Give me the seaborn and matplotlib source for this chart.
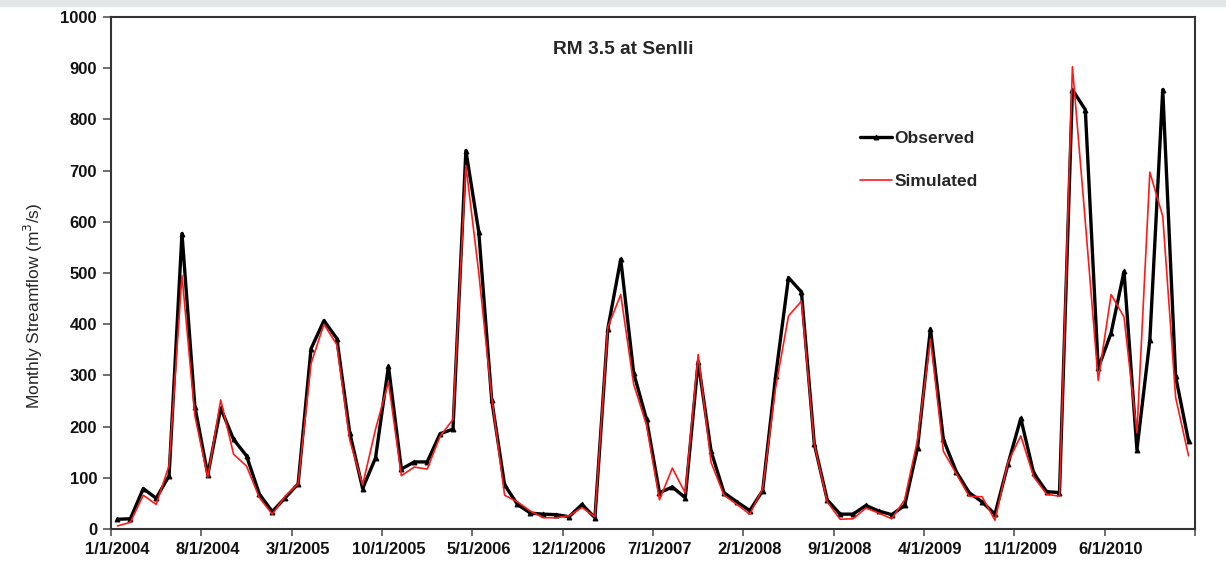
import numpy as np
import pandas as pd
import matplotlib
matplotlib.use("Agg")
import matplotlib.pyplot as plt
import seaborn as sns

# ---- data (monthly, Jan 2004 - Dec 2010) ----
observed = [19, 20, 79, 60, 104, 577, 239, 106, 236, 175, 143, 68,
            34, 61, 88, 352, 407, 372, 188, 79, 139, 318, 117, 131,
            131, 186, 195, 739, 580, 252, 86, 48, 31, 29, 28, 24,
            48, 22, 391, 527, 305, 214, 71, 82, 61, 327, 152, 71,
            53, 36, 75, 298, 491, 463, 166, 57, 29, 29, 46, 35,
            28, 46, 159, 391, 175, 112, 71, 53, 29, 126, 216, 109,
            73, 71, 858, 819, 314, 383, 503, 155, 369, 858, 298, 172]
simulated = [6, 13, 66, 48, 124, 495, 221, 101, 252, 146, 123, 61,
             29, 64, 88, 323, 400, 360, 174, 86, 195, 287, 104, 121,
             117, 181, 214, 710, 500, 257, 66, 53, 35, 22, 22, 26,
             42, 24, 394, 458, 283, 203, 57, 119, 70, 341, 130, 66,
             48, 29, 79, 276, 416, 445, 166, 53, 19, 20, 41, 31,
             20, 57, 174, 371, 152, 108, 64, 63, 17, 130, 182, 102,
             68, 64, 903, 600, 290, 458, 414, 188, 697, 611, 257, 143]
tick_labels = ["1/1/2004", "8/1/2004", "3/1/2005", "10/1/2005", "5/1/2006",
               "12/1/2006", "7/1/2007", "2/1/2008", "9/1/2008", "4/1/2009",
               "11/1/2009", "6/1/2010"]
label_step = 7
title = "RM 3.5 at Senlli"
ylabel = "Monthly Streamflow (m$^3$/s)"

assert len(observed) == len(simulated)
n = len(observed)
month_idx = np.arange(n)

df = pd.DataFrame({"month": np.concatenate([month_idx, month_idx]),
                   "flow": observed + simulated,
                   "series": ["Observed"] * n + ["Simulated"] * n})

sns.set_theme(style="white")
plt.rcParams["font.family"] = ["Liberation Sans", "DejaVu Sans"]

fig = plt.figure(figsize=(12.26, 5.85), dpi=100)
fig.patch.set_facecolor("white")
ax = fig.add_axes([111 / 1226, 56 / 585, 1084 / 1226, 512 / 585])

sns.lineplot(data=df[df.series == "Observed"], x="month", y="flow", ax=ax,
             color="black", linewidth=2.4, marker="^", markersize=3.5,
             markeredgecolor="black", label="Observed", zorder=3)
sns.lineplot(data=df[df.series == "Simulated"], x="month", y="flow", ax=ax,
             color="#ff1a1a", linewidth=1.2, label="Simulated", zorder=4)

ax.set_xlim(-0.5, n - 0.5)
ax.set_ylim(0, 1000)
ax.set_yticks(np.arange(0, 1001, 100))
ax.set_yticklabels([str(v) for v in range(0, 1001, 100)], fontweight="bold", fontsize=12)

label_pos = np.arange(len(tick_labels)) * label_step
ax.set_xticks(label_pos)
ax.set_xticklabels(tick_labels, fontweight="bold", fontsize=12)
ax.set_xticks(np.arange(0, n + 1, label_step) - 0.5, minor=True)
ax.tick_params(axis="x", which="major", length=0, pad=9, colors="#111111")
ax.tick_params(axis="x", which="minor", length=5, width=1.2, color="#555555", direction="out", bottom=True)
ax.tick_params(axis="y", which="major", length=6, width=1.2, color="#555555", direction="out", left=True, pad=4, labelcolor="#111111")

ax.set_xlabel("")
ax.set_ylabel(ylabel, fontsize=12.5)
ax.yaxis.set_label_coords(-0.061, 0.436)

for sp in ax.spines.values():
    sp.set_color("#333333")
    sp.set_linewidth(1.5)

ax.text(0.473, 0.9375, title, transform=ax.transAxes, ha="center", va="center",
        fontsize=13.8, fontweight="bold")

leg = ax.legend(loc="upper left", bbox_to_anchor=(0.683, 0.795), frameon=False,
                borderpad=0, handlelength=1.85, handletextpad=0.12, labelspacing=1.6,
                prop={"weight": "bold", "size": 12.5})

# light grey strip at the top of the slide image
fig.patches.append(plt.Rectangle((0, 1 - 6 / 585), 1, 6 / 585, transform=fig.transFigure,
                                 color="#e3e7e7", zorder=0))

fig.savefig("out.png", dpi=100)
